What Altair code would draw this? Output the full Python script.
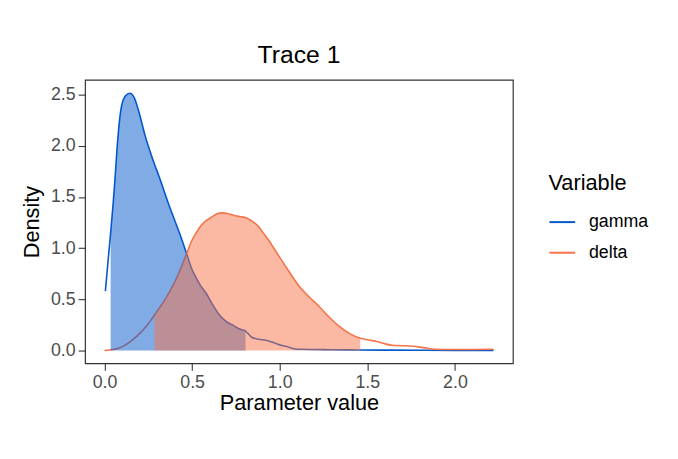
import altair as alt
import pandas as pd

# ---- data ----
variables = ["gamma", "delta"]
line_colors = ["#0358CC", "#F77448"]

gamma_x = [0.005, 0.02, 0.035, 0.05, 0.06, 0.075, 0.095, 0.12, 0.145, 0.17, 0.20,
           0.23, 0.275, 0.32, 0.36, 0.41, 0.44, 0.47, 0.50, 0.52, 0.55, 0.58, 0.62,
           0.655, 0.69, 0.73, 0.77, 0.805, 0.84, 0.88, 0.92, 0.96, 1.00, 1.04, 1.08,
           1.12, 1.20, 1.30, 1.45, 1.60, 1.80, 2.00, 2.22]
gamma_y = [0.58, 0.87, 1.15, 1.45, 1.68, 2.05, 2.37, 2.49, 2.515, 2.47, 2.31,
           2.11, 1.87, 1.66, 1.46, 1.23, 1.09, 0.94, 0.79, 0.72, 0.63, 0.56, 0.44,
           0.35, 0.29, 0.25, 0.21, 0.19, 0.13, 0.11, 0.10, 0.08, 0.055, 0.04, 0.018,
           0.012, 0.010, 0.008, 0.005, 0.004, 0.002, 0.001, 0.001]

delta_x = [0.0, 0.05, 0.085, 0.12, 0.16, 0.20, 0.24, 0.285, 0.32, 0.35, 0.38, 0.41,
           0.44, 0.47, 0.50, 0.52, 0.55, 0.58, 0.60, 0.64, 0.67, 0.70, 0.74, 0.77,
           0.81, 0.85, 0.88, 0.91, 0.94, 0.97, 1.00, 1.05, 1.11, 1.17, 1.225, 1.28,
           1.34, 1.40, 1.46, 1.50, 1.55, 1.60, 1.64, 1.70, 1.76, 1.82, 1.89, 1.95,
           2.05, 2.22]
delta_y = [0.0, 0.01, 0.025, 0.055, 0.105, 0.165, 0.24, 0.345, 0.43, 0.51, 0.60, 0.70,
           0.82, 0.95, 1.08, 1.14, 1.22, 1.27, 1.29, 1.335, 1.345, 1.34, 1.32, 1.31,
           1.295, 1.255, 1.21, 1.14, 1.07, 0.99, 0.91, 0.78, 0.63, 0.52, 0.43, 0.33,
           0.235, 0.165, 0.12, 0.105, 0.09, 0.065, 0.052, 0.047, 0.042, 0.028, 0.012, 0.01,
           0.01, 0.012]

# shaded interval bounds per variable
interval_lo = [0.035, 0.285]
interval_hi = [0.805, 1.46]

x_ticks = [0.0, 0.5, 1.0, 1.5, 2.0]
y_ticks = [0.0, 0.5, 1.0, 1.5, 2.0, 2.5]

# ---- build tables ----
gamma_df = pd.DataFrame({"x": gamma_x, "y": gamma_y, "Variable": "gamma"})
delta_df = pd.DataFrame({"x": delta_x, "y": delta_y, "Variable": "delta"})
df = pd.concat([gamma_df, delta_df], ignore_index=True)
df["base"] = 0.0

FONT = "Liberation Sans"

x_enc = alt.X("x:Q", title="Parameter value",
              scale=alt.Scale(domain=[-0.111, 2.331], nice=False, zero=False),
              axis=alt.Axis(values=x_ticks, format=".1f"))
y_enc = alt.Y("y:Q", title="Density",
              scale=alt.Scale(domain=[-0.126, 2.646], nice=False, zero=False),
              axis=alt.Axis(values=y_ticks, format=".1f"))

lines = alt.Chart(df).mark_line(strokeWidth=1.6, interpolate="monotone").encode(
    x=x_enc, y=y_enc,
    color=alt.Color("Variable:N",
                    scale=alt.Scale(domain=variables, range=line_colors),
                    sort=variables),
    order=alt.Order("x:Q"),
)

areas = []
for i, v in enumerate(variables):
    sub = df[(df["Variable"] == v) & (df["x"] >= interval_lo[i]) & (df["x"] <= interval_hi[i])]
    a = alt.Chart(sub).mark_area(
        interpolate="monotone", opacity=0.5, fill=line_colors[i], strokeWidth=0
    ).encode(x=x_enc, y=y_enc, y2="base:Q")
    areas.append(a)

chart = alt.layer(lines, *areas).properties(
    width=433, height=287,
    title=alt.TitleParams("Trace 1", font=FONT, fontSize=25, fontWeight="normal",
                          color="black", anchor="middle", offset=12),
    autosize=alt.AutoSizeParams(type="none"),
    padding={"left": 78, "top": 70, "right": 159, "bottom": 88},
).configure_view(
    stroke="#333333", strokeWidth=1.2
).configure_axis(
    grid=False, domain=False, tickColor="#333333", tickSize=7, tickWidth=1.1,
    labelColor="#4D4D4D", labelFont=FONT, labelFontSize=18, labelPadding=3,
    titleFont=FONT, titleFontSize=22, titleFontWeight="normal", titleColor="black",
).configure_axisX(
    titlePadding=2
).configure_axisY(
    titlePadding=7
).configure_legend(
    orient="none", legendX=469, legendY=95,
    titleFont=FONT, titleFontSize=22, titleFontWeight="normal", titleColor="black",
    labelFont=FONT, labelFontSize=18, labelColor="black",
    symbolType="stroke", symbolSize=676, symbolStrokeWidth=2,
    rowPadding=8, labelOffset=13, titlePadding=13,
)

chart.save("out.html", embed_options={"renderer": "svg", "actions": False})
